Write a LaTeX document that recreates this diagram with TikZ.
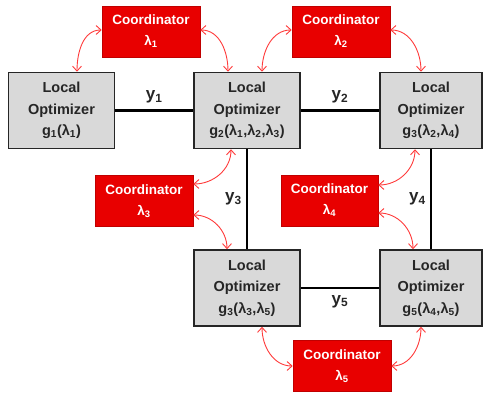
\documentclass[tikz,border=0pt]{standalone}
\usepackage{fontspec}
\setmainfont{Liberation Sans}
\usetikzlibrary{arrows.meta}
\definecolor{boxgray}{HTML}{D9D9D9}
\definecolor{coordred}{HTML}{E80000}
\definecolor{coordedge}{HTML}{C00000}
\definecolor{linkred}{HTML}{FF3B3B}
\newcommand\lam[1]{λ\textsubscript{#1}}
\begin{document}
\begin{tikzpicture}[x=1pt,y=-1pt,
  optbox/.style={draw=black!85,line width=1.5pt,fill=boxgray,text=black!85,
    font=\bfseries\fontsize{14.5}{21.5}\selectfont,align=center,inner sep=0pt,
    minimum width=106pt,minimum height=76pt},
  coordbox/.style={draw=coordedge,line width=0.6pt,fill=coordred,text=white,
    font=\bfseries\fontsize{13.5}{21}\selectfont,align=center,inner sep=0pt,
    minimum width=98pt,minimum height=51pt},
  coupling/.style={line width=2.4pt,black},
  ylabel/.style={font=\bfseries\fontsize{17}{19}\selectfont,text=black!85,inner sep=0pt},
  link/.style={linkred,line width=0.9pt,{Straight Barb[length=5pt,width=9pt]}-{Straight Barb[length=5pt,width=9pt]}}]
\useasboundingbox (0,0) rectangle (483,393);

% local optimizers
\node[optbox] (o1) at (61.5,110.5) {Local\\Optimizer\\g\textsubscript{1}(\lam1)};
\node[optbox] (o2) at (247,110.5) {Local\\Optimizer\\g\textsubscript{2}(\lam1,\lam2,\lam3)};
\node[optbox,minimum width=102pt] (o3) at (431,110.5) {Local\\Optimizer\\g\textsubscript{3}(\lam2,\lam4)};
\node[optbox] (o4) at (247,288) {Local\\Optimizer\\g\textsubscript{3}(\lam3,\lam5)};
\node[optbox,minimum width=102pt] (o5) at (431,288) {Local\\Optimizer\\g\textsubscript{5}(\lam4,\lam5)};

% coordinators
\node[coordbox] (c1) at (151,31.5) {Coordinator\\\lam1};
\node[coordbox] (c2) at (341,31.5) {Coordinator\\\lam2};
\node[coordbox] (c3) at (144,201) {Coordinator\\\lam3};
\node[coordbox,minimum width=97pt] (c4) at (329.5,200.5) {Coordinator\\\lam4};
\node[coordbox] (c5) at (342,366) {Coordinator\\\lam5};

% coupling variables
\draw[coupling] (o1.east) -- node[ylabel,above=6pt] (y1) {y\textsubscript{1}} (o2.west);
\draw[coupling] (o2.east) -- node[ylabel,above=6pt] (y2) {y\textsubscript{2}} (o3.west);
\draw[coupling] (o2.south) -- node[ylabel,left=4pt] (y3) {y\textsubscript{3}} (o4.north);
\draw[coupling] (o3.south) -- node[ylabel,left=4pt] (y4) {y\textsubscript{4}} (o5.north);
\draw[coupling] (o4.east) -- node[ylabel,below=6pt] (y5) {y\textsubscript{5}} (o5.west);

% coordinator links
\draw[link] ([yshift=1.5pt]c1.west) to[out=180,in=90] ([xshift=15.5pt]o1.north);
\draw[link] ([yshift=1.5pt]c1.east) to[out=0,in=90] ([xshift=-19pt]o2.north);
\draw[link] ([yshift=1.5pt]c2.west) to[out=180,in=90] ([xshift=15pt]o2.north);
\draw[link] ([yshift=1.5pt]c2.east) to[out=0,in=90] ([xshift=-10pt]o3.north);
\draw[link] ([yshift=17pt]c3.east) to[out=0,in=-90] ([xshift=-16pt]o2.south);
\draw[link] ([yshift=-14pt]c3.east) to[out=0,in=90] ([xshift=-20pt]o4.north);
\draw[link] ([yshift=15.5pt]c4.east) to[out=0,in=-90] ([xshift=-16pt]o3.south);
\draw[link] ([yshift=-12.5pt]c4.east) to[out=0,in=90] ([xshift=-18pt]o5.north);
\draw[link] (c5.west) to[out=180,in=-90] ([xshift=15pt]o4.south);
\draw[link] (c5.east) to[out=0,in=-90] ([xshift=-10pt]o5.south);
\end{tikzpicture}
\end{document}
